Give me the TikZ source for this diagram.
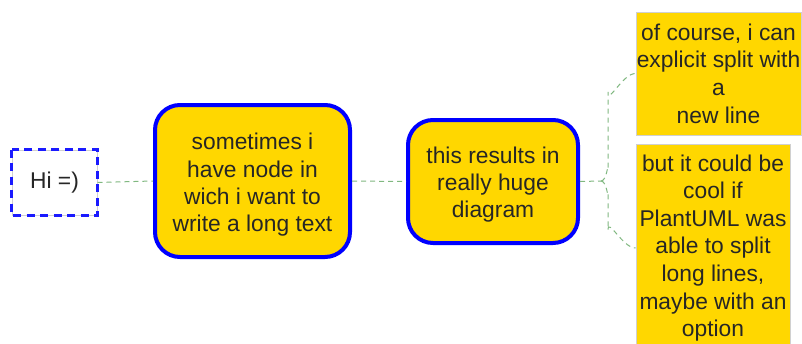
\documentclass[tikz,border=0pt]{standalone}
\usepackage{fontspec}
\setmainfont{Liberation Sans}
\definecolor{nodegold}{HTML}{FFD700}
\definecolor{linkgreen}{HTML}{80B880}
\definecolor{edgegray}{HTML}{D0D0D0}
\definecolor{dashblue}{HTML}{1A1AFF}
\begin{document}
\begin{tikzpicture}[x=1pt,y=-1pt,
  txt/.style={font=\fontsize{22.8}{27.3}\selectfont, align=center, text=black!85},
  leaftxt/.style={font=\fontsize{22.8}{27.6}\selectfont, align=center, text=black!85},
  bigbox/.style={draw=blue, line width=4pt, fill=nodegold, rounded corners=25pt, inner sep=0pt},
  leafbox/.style={leaftxt, draw=edgegray, line width=1pt, fill=nodegold, inner sep=0pt},
  link/.style={draw=linkgreen, line width=1pt, dash pattern=on 5pt off 4pt}]
\useasboundingbox (0,0) rectangle (802,343);
\fill[white] (0,0) rectangle (802,343);
% Hi box
\node[txt, draw=edgegray, line width=1pt, fill=white, minimum width=85pt, minimum height=65pt, inner sep=0pt] (hi) at (54.5,182.5) {Hi =)};
\draw[draw=dashblue, line width=2.1pt, dash pattern=on 8pt off 5.5pt] (hi.north west) rectangle (hi.south east);
% main nodes
\node[bigbox, minimum width=195pt, minimum height=152pt] (n2) at (252.5,181) {};
\node[txt] (t2) at ([yshift=-4pt]n2.center) {sometimes i\\have node in\\wich i want to\\write a long text};
\node[bigbox, minimum width=170pt, minimum height=123pt] (n3) at (493,181.5) {};
\node[txt] (t3) at ([yshift=-3pt]n3.center) {this results in\\really huge\\diagram};
\node[leafbox, minimum width=165pt, minimum height=123pt] (n4) at (718.5,73.5) {of course, i can\\explicit split with\\a\\new line};
\node[leafbox, minimum width=154pt, minimum height=208pt] (n5) at (713,248) {but it could be\\cool if\\PlantUML was\\able to split\\long lines,\\maybe with an\\option};
% connectors
\coordinate (j) at (601,181);
\path[link] (hi.east) -- (n2.west);
\path[link] (n2.east) -- (n3.west);
\path[link] (n3.east) -- (j);
\path[link] (j) to[out=0,in=90] (608,168) -- (608,92) to[out=-90,in=180] (n4.west);
\path[link] (j) to[out=0,in=-90] (608,194) -- (608,230) to[out=90,in=180] (n5.west);
\end{tikzpicture}
\end{document}
